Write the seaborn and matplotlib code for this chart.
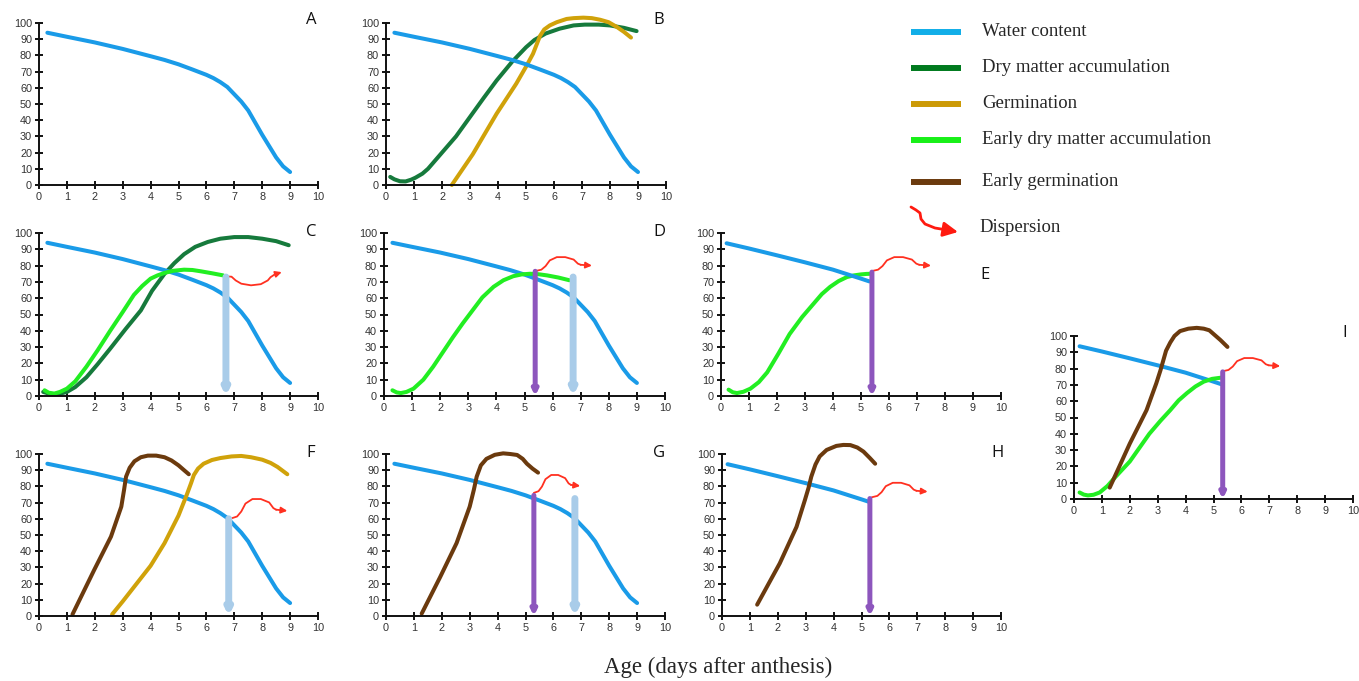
import matplotlib
matplotlib.use("Agg")
import matplotlib.pyplot as plt
import seaborn as sns

# ---- curves (x = days after anthesis, y = %) ----
water_x = [0.3, 1, 2, 3, 4, 4.5, 5, 5.5, 6, 6.25, 6.5, 6.75, 7, 7.25, 7.5, 7.75, 8, 8.25, 8.5, 8.75, 9]
water_y = [94, 91.5, 88, 84, 79.5, 77.2, 74.5, 71.3, 68, 66, 63.5, 60.5, 56, 51.5, 46, 38.5, 31, 24, 17, 11.5, 8]

water_short_x = [0.2, 1, 2, 3, 4, 5, 5.3]
water_short_y = [93.7, 90.5, 86.3, 82, 77.5, 72, 70.3]

dry_b_x = [0.15, 0.3, 0.5, 0.7, 0.9, 1.05, 1.3, 1.5, 1.9, 2.5, 3, 3.5, 3.95, 4.5, 5, 5.3,
           5.7, 6.2, 6.7, 7.1, 7.6, 8, 8.5, 8.95]
dry_b_y = [5, 3.5, 2.3, 2.2, 3.3, 4.5, 7, 10, 18, 30, 42, 54, 64.5, 76, 85, 89.5,
           93.5, 96.5, 98.5, 99, 99, 98.5, 97, 95]

germ_b_x = [2.35, 3.1, 3.95, 4.65, 5.0, 5.25, 5.5, 5.65, 5.85, 6.1, 6.45, 6.7, 7.05, 7.35,
            7.65, 7.95, 8.25, 8.5, 8.75]
germ_b_y = [0, 19, 44, 62.5, 73, 81, 92, 96, 98.5, 100.5, 102.5, 103, 103.3, 103,
            102, 100.5, 97.5, 94.5, 91]

dry_c_x = [0.15, 0.35, 0.55, 0.75, 1, 1.3, 1.7, 2.1, 2.55, 3.1, 3.65, 4.05, 4.5, 4.85, 5.2,
           5.6, 6.05, 6.5, 7, 7.5, 8, 8.5, 8.95]
dry_c_y = [2.5, 1.5, 1, 1.4, 2.5, 5.5, 11.5, 19.5, 29, 41, 52.5, 64.5, 75, 81.5, 87,
           91.5, 94.5, 96.5, 97.5, 97.5, 96.5, 95, 92.5]

early_dry_c_x = [0.2, 0.35, 0.55, 0.75, 1, 1.3, 1.7, 2.1, 2.55, 3, 3.4, 3.7, 4, 4.25, 4.5,
                 4.8, 5.2, 5.5, 5.8, 6.2, 6.6]
early_dry_c_y = [3.5, 2, 1.5, 2.5, 4.5, 9, 18, 28, 40, 51.5, 62, 67.5, 72, 74, 75.5,
                 76.8, 77.5, 77.3, 76.5, 75.3, 74]

early_dry_d_x = [0.3, 0.45, 0.6, 0.8, 1.05, 1.4, 1.75, 2.1, 2.45, 2.8, 3.15, 3.5, 3.9, 4.25,
                 4.6, 4.9, 5.2, 5.5, 5.8, 6.2, 6.6]
early_dry_d_y = [3.5, 2.2, 1.8, 2.5, 4.5, 10, 18, 27, 36, 44.5, 52.5, 60.5, 67, 71,
                 73.5, 74.6, 75, 74.7, 74, 72.7, 71]

early_dry_e_x = [0.27, 0.42, 0.57, 0.8, 1.05, 1.35, 1.65, 2.05, 2.45, 2.9, 3.3, 3.6, 3.9,
                 4.2, 4.5, 4.75, 5.0, 5.2, 5.39]
early_dry_e_y = [3.9, 2.3, 1.8, 2.6, 4.5, 8.5, 14.5, 26, 38, 48.5, 56.5, 62.5, 67,
                 70.5, 73, 74, 74.6, 74.9, 75]

early_dry_i_x = [0.2, 0.35, 0.5, 0.7, 0.92, 1.2, 1.5, 2.0, 2.35, 2.7, 3.1, 3.45, 3.75, 4.05,
                 4.35, 4.65, 4.95, 5.3]
early_dry_i_y = [4, 2.7, 2.2, 2.6, 4, 8, 13.8, 23, 31.5, 40, 48, 54.5, 60.5, 65,
                 69, 72, 73.7, 74.5]

early_germ_f_x = [1.2, 1.98, 2.58, 2.95, 3.05, 3.12, 3.25, 3.42, 3.65, 3.9, 4.2, 4.5, 4.75,
                  5.0, 5.2, 5.37]
early_germ_f_y = [1, 28.5, 49, 67.5, 78, 86, 91.5, 95.5, 98, 99, 99, 98, 96,
                  93, 90, 87.5]

germ_f_x = [2.62, 3, 3.5, 4, 4.5, 5, 5.3, 5.45, 5.55, 5.7, 5.9, 6.2, 6.5, 6.9, 7.25, 7.6,
            8, 8.3, 8.55, 8.9]
germ_f_y = [1, 9, 20, 31, 45, 62, 75, 82, 87, 91, 94, 96.3, 97.5, 98.5, 98.8, 98,
            96.5, 94.5, 92, 87.5]

early_germ_g_x = [1.28, 1.94, 2.53, 3.0, 3.15, 3.25, 3.4, 3.6, 3.9, 4.2, 4.45, 4.7, 4.9,
                  5.05, 5.25, 5.45]
early_germ_g_y = [1.5, 24, 45, 67.5, 78, 86, 93, 97, 99.5, 100.4, 100, 99.4, 97,
                  94, 91, 88.5]

early_germ_h_x = [1.26, 2.07, 2.67, 2.97, 3.1, 3.2, 3.35, 3.5, 3.75, 4.1, 4.35, 4.6, 4.85,
                  5.07, 5.3, 5.49]
early_germ_h_y = [7, 32.5, 55, 71.5, 79, 86, 93.5, 98.5, 102.5, 105, 105.6, 105.5, 104,
                  101.5, 97.5, 94]

early_germ_i_x = [1.28, 2.0, 2.6, 2.95, 3.1, 3.2, 3.3, 3.45, 3.6, 3.8, 4.1, 4.4, 4.65,
                  4.85, 5.05, 5.25, 5.5]
early_germ_i_y = [7, 34, 54.5, 71, 79, 85, 91, 96, 100, 103, 104.5, 105, 104.5,
                  103.5, 100.5, 97.5, 93.3]

# harvest drops (x, top value) and dispersion starts
drop_purple = {"D": (5.38, 76.5), "E": (5.39, 76), "G": (5.3, 74.5), "H": (5.3, 72.5), "I": (5.33, 78)}
drop_blue = {"C": (6.7, 73), "D": (6.73, 73), "F": (6.8, 60), "G": (6.77, 72.5)}
disp_start = {"C": (6.65, 73.4), "D": (5.4, 76.7), "E": (5.4, 76.7), "F": (6.9, 60.3),
              "G": (5.3, 76), "H": (5.37, 73.3), "I": (5.33, 78.4)}

legend_labels = ["Water content", "Dry matter accumulation", "Germination",
                 "Early dry matter accumulation", "Early germination"]

# ---- styles ----
C_WATER = "#1a9be8"
C_DRY = "#167a3c"
C_GERM = "#d0a20a"
C_EDRY = "#22ee22"
C_EGERM = "#6b3a0e"
C_PURPLE = "#8d56bd"
C_LBLUE = "#a9cce9"
C_RED = "#ff3020"
LEG_COLORS = ["#12aee8", "#007a1e", "#cc9a06", "#18f018", "#6b3a0e"]

WAVE_UP = [(0, 0), (0.2, 0.8), (0.35, 3), (0.5, 6.5), (0.75, 8.5), (1.05, 8.5),
           (1.35, 7), (1.5, 4.5), (1.6, 3.8)]
WAVE_UP_TIP = (2.0, 3.3)
WAVE_DOWN = [(0, 0), (0.25, -0.2), (0.4, -2.5), (0.6, -4.5), (0.95, -5.5), (1.3, -4.8),
             (1.55, -2.5), (1.65, -0.5), (1.8, 1.2)]
WAVE_DOWN_TIP = (2.05, 2.6)
wave_scale = {"C": (1, 1), "D": (1, 1), "E": (1.05, 1), "F": (1, 1.4), "G": (0.83, 1.3),
              "H": (1, 1.05), "I": (1.03, 0.95)}

sns.set_style("ticks")
plt.rcParams["font.family"] = ["Liberation Sans", "DejaVu Sans"]

W, H = 1359, 681
fig = plt.figure(figsize=(W / 100, H / 100), dpi=100)


def make_ax(x0, x10, y0, y100):
    return fig.add_axes([x0 / W, (H - y0) / H, (x10 - x0) / W, (y0 - y100) / H])


panels = {
    "A": make_ax(39, 318, 185, 23),
    "B": make_ax(386, 666, 185, 23),
    "C": make_ax(39, 318, 396, 233),
    "D": make_ax(384, 665, 396, 233),
    "E": make_ax(721, 1001, 396, 233),
    "F": make_ax(39, 318, 616, 454),
    "G": make_ax(386, 665, 616, 454),
    "H": make_ax(722, 1001, 616, 454),
    "I": make_ax(1074, 1353, 499, 336),
}

curves = {
    "A": [(water_x, water_y, C_WATER)],
    "B": [(dry_b_x, dry_b_y, C_DRY), (germ_b_x, germ_b_y, C_GERM), (water_x, water_y, C_WATER)],
    "C": [(dry_c_x, dry_c_y, C_DRY), (water_x, water_y, C_WATER), (early_dry_c_x, early_dry_c_y, C_EDRY)],
    "D": [(water_x, water_y, C_WATER), (early_dry_d_x, early_dry_d_y, C_EDRY)],
    "E": [(early_dry_e_x, early_dry_e_y, C_EDRY), (water_short_x, water_short_y, C_WATER)],
    "F": [(water_x, water_y, C_WATER), (early_germ_f_x, early_germ_f_y, C_EGERM), (germ_f_x, germ_f_y, C_GERM)],
    "G": [(water_x, water_y, C_WATER), (early_germ_g_x, early_germ_g_y, C_EGERM)],
    "H": [(water_short_x, water_short_y, C_WATER), (early_germ_h_x, early_germ_h_y, C_EGERM)],
    "I": [(water_short_x, water_short_y, C_WATER), (early_dry_i_x, early_dry_i_y, C_EDRY),
          (early_germ_i_x, early_germ_i_y, C_EGERM)],
}

letter_pos = {"A": (0.975, 1.02), "B": (0.975, 1.02), "C": (0.975, 1.006), "D": (0.98, 1.006),
              "E": (0.943, 0.742), "F": (0.975, 1.006), "G": (0.98, 1.006), "H": (0.986, 1.006),
              "I": (0.971, 1.018)}


def drop_arrow(ax, x, top, color, lw):
    ax.annotate("", xy=(x, 0), xytext=(x, top),
                arrowprops=dict(arrowstyle="-|>", color=color, lw=lw, shrinkA=0, shrinkB=0,
                                mutation_scale=7), annotation_clip=False)


def dispersion(ax, key):
    x0, y0 = disp_start[key]
    sx, sy = wave_scale[key]
    pts, tip = (WAVE_DOWN, WAVE_DOWN_TIP) if key == "C" else (WAVE_UP, WAVE_UP_TIP)
    xs = [x0 + dx * sx for dx, dy in pts]
    ys = [y0 + dy * sy for dx, dy in pts]
    ax.plot(xs, ys, color=C_RED, lw=1.3, clip_on=False, solid_capstyle="round",
            solid_joinstyle="round")
    ax.annotate("", xy=(x0 + tip[0] * sx, y0 + tip[1] * sy), xytext=(xs[-1], ys[-1]),
                arrowprops=dict(arrowstyle="-|>", color=C_RED, lw=1.3, shrinkA=0, shrinkB=0,
                                mutation_scale=9), annotation_clip=False)


for key, ax in panels.items():
    for xs, ys, col in curves[key]:
        sns.lineplot(x=xs, y=ys, ax=ax, color=col, lw=2.9, sort=False, estimator=None)
    for ln in ax.lines:
        ln.set_clip_on(False)
        ln.set_solid_capstyle("round")
        ln.set_solid_joinstyle("round")
    if key in drop_blue:
        drop_arrow(ax, *drop_blue[key], C_LBLUE, 5)
    if key in drop_purple:
        drop_arrow(ax, *drop_purple[key], C_PURPLE, 3.6)
    if key in disp_start:
        dispersion(ax, key)

    ax.set_xlim(0, 10)
    ax.set_ylim(0, 100)
    ax.set_xticks(range(0, 11))
    ax.set_yticks(range(0, 101, 10))
    ax.set_facecolor("none")
    sns.despine(ax=ax)
    for s in ("left", "bottom"):
        ax.spines[s].set_linewidth(1.4)
        ax.spines[s].set_color("#111111")
    ax.tick_params(direction="inout", length=6, width=1.4, color="#111111",
                   labelsize=7.8, labelcolor="#333333", pad=2)
    ax.text(*letter_pos[key], key, transform=ax.transAxes, ha="center", va="center",
            fontsize=12, family=["Open Sans", "DejaVu Sans"], color="#111111")

fig.text(718 / W, 1 - 667 / H, "Age (days after anthesis)", ha="center", va="center",
         fontsize=16.5, family=["Liberation Serif", "DejaVu Serif"])

# legend drawn in figure pixel space
lg = fig.add_axes([900 / W, 1 - 250 / H, 400 / W, 240 / H])
lg.set_xlim(900, 1300)
lg.set_ylim(250, 10)
lg.axis("off")
leg_y = [32, 68, 104, 140, 182]
for yy, lab, col in zip(leg_y, legend_labels, LEG_COLORS):
    lg.plot([911, 961], [yy, yy], color=col, lw=4.3, solid_capstyle="butt")
    lg.text(982, yy, lab, va="center", ha="left", fontsize=13.5,
            family=["Liberation Serif", "DejaVu Serif"])
lg.plot([911, 916, 920, 921, 925, 935, 944], [207, 210, 213, 219, 224, 228, 229.5],
        color="#ff1a10", lw=2)
lg.annotate("", xy=(958, 232), xytext=(944, 229.5),
            arrowprops=dict(arrowstyle="-|>", color="#ff1a10", lw=2, shrinkA=0, shrinkB=0,
                            mutation_scale=22))
lg.text(979, 227, "Dispersion", va="center", ha="left", fontsize=13.5,
        family=["Liberation Serif", "DejaVu Serif"])

fig.savefig("out.png", dpi=100)
